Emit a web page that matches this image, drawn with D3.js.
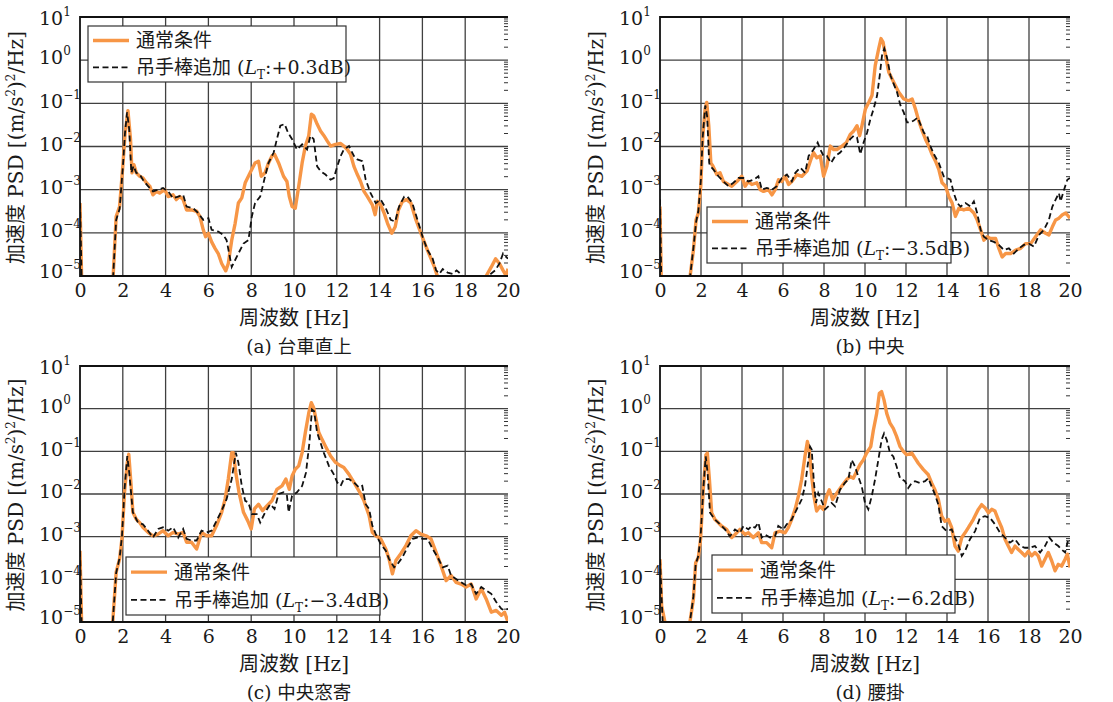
<!DOCTYPE html>
<html>
<head>
<meta charset="utf-8">
<script src="https://cdn.jsdelivr.net/npm/d3@7"></script>
<style>
body { margin: 0; background: #fff; }
text { font-family: "DejaVu Serif", "Noto Sans CJK JP", serif; fill: #1a1a1a; }
</style>
</head>
<body>
<svg id="chart" width="1113" height="702"></svg>
<script>
// x / y ticks
const xTicks = [0, 2, 4, 6, 8, 10, 12, 14, 16, 18, 20];
const yExps = [-5, -4, -3, -2, -1, 0, 1];
const seriesNames = ["通常条件", "吊手棒追加"];
const orange = "#f79646";

// [frequency Hz, log10 PSD]
const aNormal = [[0,-3.31],[0.1,-5.6],[1.45,-5.6],[1.55,-5.0],[1.69,-3.62],[1.85,-3.39],[2.0,-2.46],[2.11,-1.68],[2.24,-1.17],[2.36,-1.83],[2.43,-2.61],[2.52,-2.42],[2.63,-2.61],[2.79,-2.69],[2.94,-2.73],[3.1,-2.84],[3.26,-2.92],[3.41,-3.12],[3.57,-3.04],[3.72,-3.08],[3.96,-3.0],[4.12,-3.16],[4.35,-3.12],[4.5,-3.23],[4.66,-3.16],[4.82,-3.23],[4.98,-3.47],[5.21,-3.47],[5.45,-3.5],[5.6,-3.62],[5.76,-3.93],[5.87,-4.09],[6.0,-4.01],[6.15,-4.21],[6.31,-4.36],[6.46,-4.48],[6.62,-4.71],[6.81,-4.88],[6.93,-4.71],[7.09,-4.17],[7.25,-3.78],[7.4,-3.31],[7.56,-3.19],[7.72,-2.84],[7.95,-2.61],[8.18,-2.38],[8.34,-2.34],[8.47,-2.69],[8.65,-2.61],[8.81,-2.38],[8.97,-2.22],[9.09,-2.18],[9.28,-2.38],[9.51,-2.69],[9.67,-2.81],[9.78,-3.16],[9.91,-3.39],[10.06,-3.43],[10.22,-2.92],[10.38,-2.38],[10.53,-1.99],[10.69,-1.75],[10.81,-1.25],[10.92,-1.29],[11.08,-1.48],[11.24,-1.64],[11.4,-1.75],[11.55,-1.87],[11.71,-1.99],[11.94,-1.95],[12.18,-1.93],[12.33,-1.99],[12.49,-2.07],[12.64,-2.18],[12.8,-2.46],[12.96,-2.65],[13.11,-2.81],[13.27,-3.04],[13.43,-3.16],[13.66,-3.35],[13.79,-3.58],[13.9,-3.27],[14.05,-3.35],[14.21,-3.54],[14.37,-3.78],[14.57,-4.01],[14.73,-3.86],[14.88,-3.47],[15.07,-3.27],[15.26,-3.23],[15.46,-3.31],[15.7,-3.7],[15.93,-4.01],[16.17,-4.32],[16.4,-4.6],[16.56,-4.79],[16.71,-5.02],[16.9,-5.3],[18.8,-5.3],[18.98,-5.0],[19.22,-4.79],[19.42,-4.6],[19.6,-4.71],[19.77,-4.87],[19.92,-5.0],[20,-4.83]];
const aHanger = [[0,-3.3],[0.1,-5.6],[1.45,-5.6],[1.55,-5.0],[1.69,-3.7],[1.85,-3.45],[2.0,-2.5],[2.1,-1.7],[2.2,-1.21],[2.3,-1.6],[2.4,-2.61],[2.5,-2.45],[2.63,-2.61],[2.79,-2.65],[2.94,-2.77],[3.18,-2.92],[3.41,-3.04],[3.65,-3.0],[3.88,-2.96],[4.12,-3.04],[4.35,-3.2],[4.59,-3.16],[4.82,-3.12],[4.98,-3.39],[5.29,-3.43],[5.52,-3.54],[5.76,-3.7],[6.0,-3.66],[6.15,-3.93],[6.46,-3.97],[6.7,-4.05],[6.85,-4.17],[7.09,-4.79],[7.17,-4.71],[7.4,-4.48],[7.64,-4.25],[7.87,-4.17],[8.03,-3.62],[8.18,-3.31],[8.42,-3.16],[8.65,-2.69],[8.81,-2.38],[9.05,-2.14],[9.2,-1.83],[9.36,-1.52],[9.56,-1.48],[9.72,-1.68],[9.91,-1.83],[10.14,-2.07],[10.38,-1.95],[10.61,-2.07],[10.77,-1.75],[10.92,-1.83],[11.08,-2.46],[11.24,-2.57],[11.47,-2.65],[11.71,-2.77],[11.86,-2.73],[12.02,-2.46],[12.18,-2.22],[12.33,-2.07],[12.57,-1.99],[12.8,-2.22],[12.96,-2.3],[13.19,-2.34],[13.35,-2.77],[13.58,-3.08],[13.82,-3.31],[14.05,-3.23],[14.29,-3.43],[14.52,-3.7],[14.73,-3.74],[14.91,-3.39],[15.15,-3.16],[15.3,-3.16],[15.53,-3.31],[15.77,-3.7],[16.01,-4.09],[16.24,-4.4],[16.48,-4.6],[16.64,-4.87],[16.8,-4.95],[16.95,-4.84],[17.18,-4.92],[17.42,-4.95],[17.6,-4.87],[17.9,-5.0],[18.1,-5.3],[18.9,-5.3],[19.2,-4.95],[19.4,-4.87],[19.6,-4.71],[19.77,-4.48],[19.92,-4.56],[20,-4.6]];

const bNormal = [[0,-3.39],[0.08,-5.6],[1.4,-5.6],[1.47,-5.0],[1.63,-4.4],[1.76,-3.7],[1.87,-3.54],[1.99,-2.92],[2.08,-1.83],[2.2,-1.13],[2.28,-0.98],[2.38,-1.52],[2.48,-2.38],[2.58,-2.45],[2.77,-2.65],[2.93,-2.61],[3.09,-2.81],[3.34,-2.88],[3.5,-2.92],[3.75,-2.81],[3.99,-2.69],[4.15,-2.92],[4.31,-2.81],[4.48,-2.88],[4.72,-2.84],[4.89,-3.0],[5.05,-3.04],[5.29,-3.0],[5.46,-3.12],[5.62,-3.0],[5.78,-2.77],[5.94,-2.81],[6.11,-2.69],[6.27,-2.88],[6.43,-2.81],[6.68,-2.65],[6.92,-2.69],[7.17,-2.57],[7.36,-2.3],[7.49,-2.14],[7.65,-2.26],[7.82,-2.22],[7.98,-2.69],[8.14,-2.45],[8.31,-1.99],[8.47,-2.07],[8.63,-2.07],[8.88,-1.99],[9.09,-1.91],[9.28,-1.72],[9.45,-1.64],[9.61,-1.52],[9.74,-1.75],[9.85,-1.52],[10.02,-1.13],[10.18,-0.98],[10.34,-0.82],[10.5,-0.12],[10.67,0.27],[10.78,0.5],[10.88,0.42],[11.0,0.11],[11.16,-0.28],[11.4,-0.51],[11.64,-0.74],[11.89,-0.9],[12.13,-0.94],[12.3,-0.9],[12.46,-1.13],[12.62,-1.4],[12.79,-1.64],[12.95,-1.83],[13.11,-1.99],[13.27,-2.18],[13.44,-2.34],[13.6,-2.53],[13.76,-2.84],[13.93,-2.92],[14.09,-3.16],[14.25,-3.31],[14.41,-3.62],[14.58,-3.43],[14.82,-3.47],[15.07,-3.43],[15.31,-3.54],[15.47,-3.7],[15.64,-3.93],[15.8,-4.17],[15.96,-4.09],[16.12,-4.13],[16.37,-4.13],[16.53,-4.36],[16.69,-4.56],[16.86,-4.48],[17.1,-4.48],[17.35,-4.4],[17.59,-4.36],[17.83,-4.25],[18.08,-4.25],[18.32,-4.09],[18.57,-3.93],[18.81,-4.01],[18.97,-4.05],[19.14,-3.86],[19.3,-3.7],[19.46,-3.66],[19.63,-3.58],[19.79,-3.54],[20,-3.66]];
const bHanger = [[0,-3.23],[0.08,-5.6],[1.4,-5.6],[1.47,-5.0],[1.63,-4.35],[1.76,-3.75],[1.87,-3.5],[1.99,-2.8],[2.08,-1.8],[2.21,-1.05],[2.3,-1.3],[2.4,-2.38],[2.44,-2.45],[2.6,-2.53],[2.85,-2.69],[3.09,-2.81],[3.34,-2.92],[3.58,-2.84],[3.83,-2.73],[4.07,-2.73],[4.31,-2.81],[4.56,-2.77],[4.8,-2.69],[4.97,-3.0],[5.21,-2.96],[5.46,-3.0],[5.7,-2.92],[5.94,-2.73],[6.19,-2.65],[6.43,-2.81],[6.6,-2.61],[6.84,-2.49],[7.08,-2.61],[7.25,-2.22],[7.49,-2.07],[7.69,-1.91],[7.82,-2.07],[7.98,-2.22],[8.14,-2.22],[8.34,-2.38],[8.55,-2.22],[8.79,-2.14],[9.04,-1.99],[9.28,-1.83],[9.45,-1.75],[9.61,-1.79],[9.77,-2.18],[9.93,-1.91],[10.1,-1.68],[10.26,-1.37],[10.42,-1.13],[10.59,-0.82],[10.72,-0.35],[10.83,0.11],[10.94,0.27],[11.07,0.07],[11.24,-0.35],[11.4,-0.55],[11.56,-0.74],[11.73,-1.05],[11.89,-1.21],[12.05,-1.44],[12.21,-1.44],[12.38,-1.4],[12.57,-1.33],[12.7,-1.48],[12.87,-1.68],[13.03,-1.75],[13.19,-1.99],[13.36,-2.18],[13.6,-2.38],[13.84,-2.69],[14.0,-2.73],[14.17,-2.77],[14.33,-3.08],[14.5,-3.31],[14.66,-3.39],[14.9,-3.31],[15.15,-3.39],[15.31,-3.27],[15.47,-3.54],[15.64,-3.93],[15.8,-4.09],[16.04,-4.17],[16.29,-4.21],[16.53,-4.28],[16.78,-4.4],[17.02,-4.36],[17.26,-4.48],[17.51,-4.36],[17.75,-4.28],[18.0,-4.25],[18.24,-4.32],[18.49,-4.05],[18.73,-3.93],[18.97,-3.7],[19.14,-3.39],[19.3,-3.23],[19.46,-3.08],[19.54,-3.27],[19.71,-3.0],[19.87,-2.77],[20,-2.73]];

const cNormal = [[0,-3.33],[0.1,-5.6],[1.45,-5.6],[1.53,-5.0],[1.69,-3.83],[1.85,-3.52],[1.96,-3.05],[2.08,-1.96],[2.21,-1.26],[2.28,-1.07],[2.39,-1.81],[2.47,-2.43],[2.63,-2.59],[2.79,-2.67],[2.94,-2.78],[3.18,-2.9],[3.41,-2.98],[3.65,-2.94],[3.88,-2.86],[4.12,-2.98],[4.35,-2.9],[4.59,-2.94],[4.82,-2.9],[4.98,-3.13],[5.21,-3.13],[5.45,-3.29],[5.68,-2.9],[5.92,-2.98],[6.15,-2.98],[6.38,-2.74],[6.62,-2.43],[6.78,-2.12],[6.93,-1.65],[7.09,-1.03],[7.17,-1.03],[7.28,-1.5],[7.43,-1.96],[7.64,-2.43],[7.84,-2.63],[8.0,-2.82],[8.15,-2.35],[8.34,-2.24],[8.53,-2.39],[8.73,-2.28],[8.97,-2.16],[9.2,-1.89],[9.44,-1.81],[9.62,-1.65],[9.78,-1.89],[9.91,-1.58],[10.06,-1.42],[10.22,-1.34],[10.38,-1.03],[10.53,-0.56],[10.69,-0.1],[10.81,0.14],[10.92,0.02],[11.03,-0.25],[11.16,-0.56],[11.31,-0.72],[11.47,-0.88],[11.71,-1.11],[11.94,-1.26],[12.18,-1.34],[12.33,-1.38],[12.57,-1.54],[12.8,-1.73],[13.04,-1.93],[13.27,-2.16],[13.51,-2.51],[13.66,-2.9],[13.82,-2.98],[14.05,-3.05],[14.29,-3.29],[14.44,-3.52],[14.6,-3.87],[14.76,-3.56],[14.99,-3.4],[15.23,-3.21],[15.46,-2.98],[15.7,-2.86],[15.93,-2.94],[16.17,-2.98],[16.4,-3.05],[16.64,-3.37],[16.87,-3.68],[17.11,-4.03],[17.34,-3.91],[17.57,-4.07],[17.81,-4.11],[18.04,-4.18],[18.28,-4.11],[18.51,-4.46],[18.75,-4.22],[18.98,-4.46],[19.22,-4.77],[19.45,-4.73],[19.69,-4.84],[19.84,-4.77],[20,-5.0]];
const cHanger = [[0,-3.33],[0.1,-5.6],[1.45,-5.6],[1.53,-5.0],[1.69,-3.85],[1.85,-3.5],[1.96,-3.0],[2.08,-1.9],[2.21,-1.11],[2.3,-1.5],[2.47,-2.43],[2.71,-2.67],[2.94,-2.71],[3.18,-2.86],[3.41,-3.02],[3.65,-2.82],[3.88,-2.78],[4.12,-2.86],[4.35,-2.78],[4.59,-3.02],[4.82,-2.82],[4.98,-3.05],[5.21,-3.09],[5.45,-3.09],[5.68,-2.86],[5.92,-2.9],[6.15,-2.86],[6.38,-2.63],[6.62,-2.39],[6.85,-2.12],[7.09,-1.65],[7.28,-1.03],[7.4,-1.26],[7.56,-1.81],[7.72,-2.16],[7.87,-2.2],[8.03,-2.47],[8.26,-2.47],[8.42,-2.67],[8.65,-2.43],[8.89,-2.24],[9.09,-2.35],[9.28,-2.0],[9.51,-1.96],[9.67,-2.04],[9.75,-2.43],[9.91,-2.04],[10.14,-1.96],[10.38,-1.81],[10.56,-1.5],[10.72,-0.8],[10.84,-0.02],[10.94,-0.06],[11.08,-0.56],[11.24,-0.8],[11.39,-1.03],[11.63,-1.34],[11.86,-1.54],[12.02,-1.73],[12.18,-1.81],[12.33,-1.65],[12.57,-1.65],[12.8,-1.73],[13.04,-1.85],[13.19,-1.81],[13.35,-2.24],[13.51,-2.35],[13.66,-2.74],[13.82,-2.94],[14.05,-3.17],[14.29,-3.33],[14.44,-3.52],[14.68,-3.72],[14.84,-3.64],[15.07,-3.48],[15.3,-3.25],[15.54,-3.05],[15.77,-3.02],[16.01,-3.05],[16.24,-3.05],[16.48,-3.29],[16.71,-3.48],[16.95,-3.72],[17.18,-3.68],[17.34,-3.91],[17.57,-3.99],[17.81,-4.07],[18.04,-4.14],[18.28,-4.11],[18.51,-4.34],[18.75,-4.18],[18.98,-4.26],[19.22,-4.34],[19.45,-4.53],[19.69,-4.69],[19.84,-4.73],[20,-4.69]];

const dNormal = [[0,-3.53],[0.08,-4.62],[0.24,-5.0],[0.3,-5.6],[1.4,-5.6],[1.46,-5.0],[1.63,-4.46],[1.74,-3.61],[1.87,-3.49],[1.98,-3.06],[2.11,-1.9],[2.24,-1.08],[2.31,-1.04],[2.41,-1.66],[2.52,-2.44],[2.68,-2.6],[2.84,-2.67],[3.0,-2.75],[3.25,-2.83],[3.5,-3.02],[3.66,-2.95],[3.9,-2.83],[4.15,-2.95],[4.31,-2.91],[4.55,-3.02],[4.8,-2.91],[4.96,-3.14],[5.2,-3.14],[5.45,-3.26],[5.61,-2.91],[5.85,-2.87],[6.1,-2.91],[6.26,-2.79],[6.42,-2.6],[6.59,-2.36],[6.75,-2.05],[6.91,-1.66],[7.07,-1.12],[7.19,-0.77],[7.28,-0.96],[7.4,-1.59],[7.51,-2.05],[7.64,-2.4],[7.8,-2.29],[7.97,-2.36],[8.13,-2.05],[8.26,-1.9],[8.42,-2.13],[8.62,-1.98],[8.86,-1.82],[9.11,-1.66],[9.27,-1.59],[9.43,-1.63],[9.59,-1.47],[9.76,-1.31],[9.92,-1.2],[10.08,-1.04],[10.28,-0.89],[10.41,-0.5],[10.57,-0.11],[10.7,0.36],[10.81,0.4],[10.93,0.2],[11.06,-0.11],[11.22,-0.34],[11.38,-0.46],[11.54,-0.65],[11.71,-0.89],[11.87,-1.0],[12.03,-1.08],[12.28,-1.04],[12.44,-1.16],[12.6,-1.28],[12.85,-1.43],[13.09,-1.55],[13.25,-1.74],[13.41,-1.9],[13.58,-2.13],[13.74,-2.52],[13.9,-2.64],[14.07,-2.6],[14.23,-2.79],[14.39,-3.22],[14.55,-3.34],[14.72,-3.02],[14.88,-2.91],[15.04,-2.79],[15.28,-2.6],[15.53,-2.36],[15.69,-2.25],[15.85,-2.32],[16.02,-2.44],[16.18,-2.36],[16.34,-2.4],[16.5,-2.6],[16.67,-2.79],[16.83,-3.06],[16.99,-3.22],[17.15,-3.37],[17.32,-3.22],[17.48,-3.3],[17.64,-3.37],[17.8,-3.45],[17.97,-3.34],[18.13,-3.45],[18.29,-3.37],[18.45,-3.45],[18.62,-3.69],[18.78,-3.53],[18.94,-3.37],[19.11,-3.57],[19.27,-3.8],[19.43,-3.65],[19.59,-3.69],[19.76,-3.53],[19.87,-3.41],[20,-3.72]];
const dHanger = [[0,-3.53],[0.13,-5.0],[0.2,-5.6],[1.4,-5.6],[1.46,-5.0],[1.63,-4.4],[1.74,-3.65],[1.87,-3.45],[1.98,-3.0],[2.11,-1.9],[2.23,-1.12],[2.32,-1.5],[2.44,-2.44],[2.68,-2.6],[2.93,-2.71],[3.17,-2.83],[3.41,-2.99],[3.66,-2.83],[3.9,-2.91],[4.07,-2.75],[4.31,-2.83],[4.47,-2.75],[4.63,-2.79],[4.8,-2.67],[4.96,-3.02],[5.12,-2.95],[5.37,-3.02],[5.61,-2.99],[5.77,-2.75],[6.02,-2.83],[6.18,-2.71],[6.42,-2.6],[6.67,-2.36],[6.91,-2.13],[7.07,-1.82],[7.24,-1.2],[7.32,-0.89],[7.4,-0.96],[7.51,-1.74],[7.61,-2.21],[7.72,-1.98],[7.89,-2.17],[8.05,-2.36],[8.21,-2.29],[8.37,-2.21],[8.54,-2.29],[8.78,-1.9],[9.02,-1.74],[9.19,-1.66],[9.35,-1.2],[9.51,-1.35],[9.67,-1.59],[9.84,-1.82],[10.0,-2.21],[10.16,-2.36],[10.33,-2.05],[10.49,-1.66],[10.65,-1.2],[10.81,-0.73],[10.93,-0.58],[11.06,-0.73],[11.22,-1.04],[11.38,-1.12],[11.54,-1.35],[11.71,-1.63],[11.95,-1.7],[12.11,-1.86],[12.28,-1.74],[12.44,-1.7],[12.68,-1.74],[12.93,-1.7],[13.09,-1.63],[13.25,-1.82],[13.41,-2.01],[13.58,-2.25],[13.74,-2.75],[13.98,-2.87],[14.23,-2.83],[14.39,-3.02],[14.55,-3.18],[14.72,-3.45],[14.88,-3.34],[15.12,-3.06],[15.37,-2.87],[15.61,-2.56],[15.85,-2.52],[16.1,-2.56],[16.34,-2.71],[16.59,-2.91],[16.83,-3.02],[17.07,-3.14],[17.32,-3.06],[17.56,-3.22],[17.8,-3.26],[18.05,-3.26],[18.29,-3.22],[18.54,-3.37],[18.78,-3.22],[18.99,-3.02],[19.19,-3.14],[19.43,-3.22],[19.59,-3.3],[19.76,-3.37],[19.92,-3.06],[20,-3.1]];

const captions = ["(a) 台車直上", "(b) 中央", "(c) 中央窓寄", "(d) 腰掛"];
const ltValues = ["+0.3", "−3.5", "−3.4", "−6.2"];

const svg = d3.select("#chart");

const panels = [
    {key: "a", left: 80, right: 508, top: 17, bottom: 276, normal: aNormal, hanger: aHanger, leg: {x: 88, y: 26, w: 258, h: 56}},
    {key: "b", left: 660, right: 1070, top: 17, bottom: 276, normal: bNormal, hanger: bHanger, leg: {x: 707, y: 207, w: 244, h: 56}},
    {key: "c", left: 80, right: 508, top: 366, bottom: 622, normal: cNormal, hanger: cHanger, leg: {x: 126, y: 557, w: 254, h: 58}},
    {key: "d", left: 660, right: 1070, top: 366, bottom: 622, normal: dNormal, hanger: dHanger, leg: {x: 712, y: 555, w: 243, h: 58}}
];

panels.forEach((p, i) => drawPanel(p, captions[i], ltValues[i]));

function drawPanel(p, caption, lt) {
    const x = d3.scaleLinear().domain([0, 20]).range([p.left, p.right]);
    const y = d3.scaleLog().domain([1e-5, 10]).range([p.bottom, p.top]);
    const g = svg.append("g");

    // grid
    g.selectAll(".vgrid").data(xTicks.slice(1, -1)).enter().append("line")
        .attr("x1", d => x(d)).attr("x2", d => x(d))
        .attr("y1", p.top).attr("y2", p.bottom)
        .attr("stroke", "#404040").attr("stroke-width", 1.3);
    g.selectAll(".hgrid").data(yExps.slice(1, -1)).enter().append("line")
        .attr("x1", p.left).attr("x2", p.right)
        .attr("y1", d => y(Math.pow(10, d))).attr("y2", d => y(Math.pow(10, d)))
        .attr("stroke", "#404040").attr("stroke-width", 1.3);

    // minor ticks on right edge
    const minors = [];
    yExps.slice(0, -1).forEach(e => d3.range(2, 10).forEach(m => minors.push(m * Math.pow(10, e))));
    g.selectAll(".minor").data(minors).enter().append("line")
        .attr("x1", p.right - 4).attr("x2", p.right)
        .attr("y1", d => y(d)).attr("y2", d => y(d))
        .attr("stroke", "#333").attr("stroke-width", 1);

    // curves
    const clipId = "clip-" + p.key;
    g.append("clipPath").attr("id", clipId).append("rect")
        .attr("x", p.left).attr("y", p.top)
        .attr("width", p.right - p.left).attr("height", p.bottom - p.top);
    const line = d3.line()
        .x(d => x(d[0]))
        .y(d => y(Math.pow(10, d[1])));
    const curves = g.append("g").attr("clip-path", `url(#${clipId})`);
    curves.append("path").datum(p.normal)
        .attr("d", line).attr("fill", "none")
        .attr("stroke", orange).attr("stroke-width", 3.4).attr("stroke-linejoin", "round");
    curves.append("path").datum(p.hanger)
        .attr("d", line).attr("fill", "none")
        .attr("stroke", "#111").attr("stroke-width", 1.8)
        .attr("stroke-dasharray", "6,3.5");

    // frame (left, top, bottom)
    g.append("path")
        .attr("d", `M${p.right},${p.top}H${p.left}V${p.bottom}H${p.right}`)
        .attr("fill", "none").attr("stroke", "#111").attr("stroke-width", 1.8);

    // x axis labels
    const xAxis = g.append("g")
        .attr("transform", `translate(0,${p.bottom})`)
        .call(d3.axisBottom(x).tickValues(xTicks).tickSize(0).tickPadding(8).tickFormat(d3.format("d")));
    xAxis.select(".domain").remove();
    xAxis.selectAll("text").attr("font-size", 19).attr("fill", "#1a1a1a")
        .style("font-family", "'DejaVu Serif', serif");

    // y axis labels 10^n
    const yAxis = g.append("g")
        .attr("transform", `translate(${p.left},0)`)
        .call(d3.axisLeft(y).tickValues(yExps.map(e => Math.pow(10, e))).tickSize(0).tickFormat(""));
    yAxis.select(".domain").remove();
    yAxis.selectAll(".tick text").each(function(d) {
        const e = Math.round(Math.log10(d));
        const t = d3.select(this)
            .attr("x", -41).attr("text-anchor", "start")
            .attr("dy", e === 1 ? "0.75em" : (e === -5 ? "0.1em" : "0.38em"))
            .attr("fill", "#1a1a1a")
            .style("font-family", "'DejaVu Serif', serif");
        t.append("tspan").attr("font-size", 19).text("10");
        t.append("tspan").attr("font-size", 12).attr("dy", "-0.75em")
            .text(e < 0 ? "−" + Math.abs(e) : String(e));
    });

    // axis titles
    const cx = (p.left + p.right) / 2;
    g.append("text")
        .attr("x", cx).attr("y", p.bottom + 49)
        .attr("text-anchor", "middle").attr("font-size", 20)
        .text("周波数 [Hz]");
    g.append("text")
        .attr("x", cx + 5).attr("y", p.bottom + 70)
        .attr("dominant-baseline", "central")
        .attr("text-anchor", "middle").attr("font-size", 18.5)
        .text(caption);
    const yt = g.append("text")
        .attr("transform", `translate(${p.left - 57},${(p.top + p.bottom) / 2 + 1}) rotate(-90)`)
        .attr("text-anchor", "middle").attr("font-size", 20);
    yt.append("tspan").text("加速度 PSD [(m/s");
    yt.append("tspan").attr("font-size", 12).attr("dy", -8).text("2");
    yt.append("tspan").attr("dy", 8).text(")");
    yt.append("tspan").attr("font-size", 12).attr("dy", -8).text("2");
    yt.append("tspan").attr("dy", 8).text("/Hz]");

    // legend
    const L = p.leg;
    const lg = g.append("g").attr("transform", `translate(${L.x},${L.y})`);
    lg.append("rect").attr("width", L.w).attr("height", L.h)
        .attr("fill", "#fff").attr("stroke", "#333").attr("stroke-width", 1.2);
    const r1 = L.h * 0.26, r2 = L.h * 0.74;
    lg.append("line").attr("x1", 5).attr("x2", 41).attr("y1", r1).attr("y2", r1)
        .attr("stroke", orange).attr("stroke-width", 3.4);
    lg.append("line").attr("x1", 5).attr("x2", 41).attr("y1", r2).attr("y2", r2)
        .attr("stroke", "#111").attr("stroke-width", 1.8).attr("stroke-dasharray", "6,3.5");
    lg.append("text").attr("x", 48).attr("y", r1).attr("dy", "0.36em")
        .attr("font-size", 19).text(seriesNames[0]);
    const t2 = lg.append("text").attr("x", 48).attr("y", r2).attr("dy", "0.36em").attr("font-size", 19);
    t2.append("tspan").text(seriesNames[1] + " (");
    t2.append("tspan").attr("font-style", "italic").text("L");
    t2.append("tspan").attr("font-size", 12).attr("dy", 5).text("T");
    t2.append("tspan").attr("dy", -5).text(":" + lt + "dB)");
}
</script>
</body>
</html>
